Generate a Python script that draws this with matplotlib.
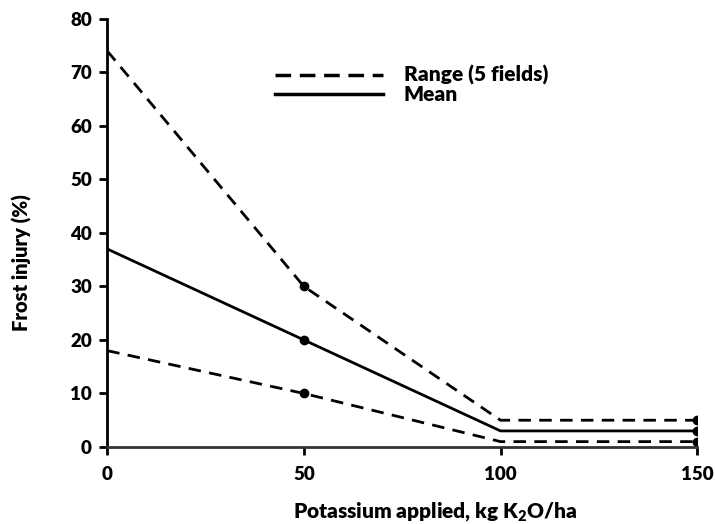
import matplotlib
matplotlib.use('Agg')
import matplotlib.pyplot as plt
from matplotlib.lines import Line2D

# %% data
potassium = [0, 50, 100, 150]
range_high = [74, 30, 5, 5]
mean_injury = [37, 20, 3, 3]
range_low = [18, 10, 1, 1]
x_ticks = [0, 50, 100, 150]
y_ticks = [0, 10, 20, 30, 40, 50, 60, 70, 80]

plt.rcParams['font.family'] = ['Lato', 'DejaVu Sans']
plt.rcParams['font.weight'] = 'heavy'
plt.rcParams['mathtext.fontset'] = 'custom'
plt.rcParams['mathtext.rm'] = 'Lato:heavy'
plt.rcParams['mathtext.bf'] = 'Lato:heavy'

fig = plt.figure(figsize=(7.15, 5.24), dpi=100)
ax = fig.add_axes([0.150, 0.147, 0.825, 0.817])

dash = (4.5, 3)
ax.plot(potassium, range_high, color='black', lw=2, dashes=dash,
        marker='o', ms=6, markevery=[1, 3])
ax.plot(potassium, mean_injury, color='black', lw=2,
        marker='o', ms=6, markevery=[1, 3])
ax.plot(potassium, range_low, color='black', lw=2, dashes=dash,
        marker='o', ms=6, markevery=[1, 3])

ax.set_xlim(0, 150)
ax.set_ylim(0, 80)
ax.set_xticks(x_ticks)
ax.set_yticks(y_ticks)
ax.tick_params(axis='both', labelsize=13.5, width=2, length=6, direction='out', pad=5)
ax.tick_params(axis='x', pad=8)
for lab in ax.get_xticklabels() + ax.get_yticklabels():
    lab.set_fontweight('heavy')

for side in ['top', 'right']:
    ax.spines[side].set_visible(False)
ax.spines['left'].set_linewidth(2)
ax.spines['bottom'].set_linewidth(2)
ax.spines['bottom'].set_color('#333333')

ax.set_ylabel('Frost injury (%)', fontsize=14.5, fontweight='heavy')
ax.set_xlabel(r'Potassium applied, kg K$_{2}$O/ha', fontsize=15,
              fontweight='heavy')
ax.yaxis.set_label_coords(-0.127, 0.43)
ax.xaxis.set_label_coords(0.556, -0.125)

handles = [Line2D([], [], color='black', lw=2.5, dashes=(4.5, 2.5)),
           Line2D([], [], color='black', lw=2.5)]
ax.legend(handles, ['Range (5 fields)', 'Mean'], loc='upper left',
          bbox_to_anchor=(0.252, 0.935), frameon=False,
          handlelength=5.2, handletextpad=1.0, labelspacing=0.0,
          prop={'size': 15, 'weight': 'heavy'})

fig.savefig('out.png', dpi=100)
